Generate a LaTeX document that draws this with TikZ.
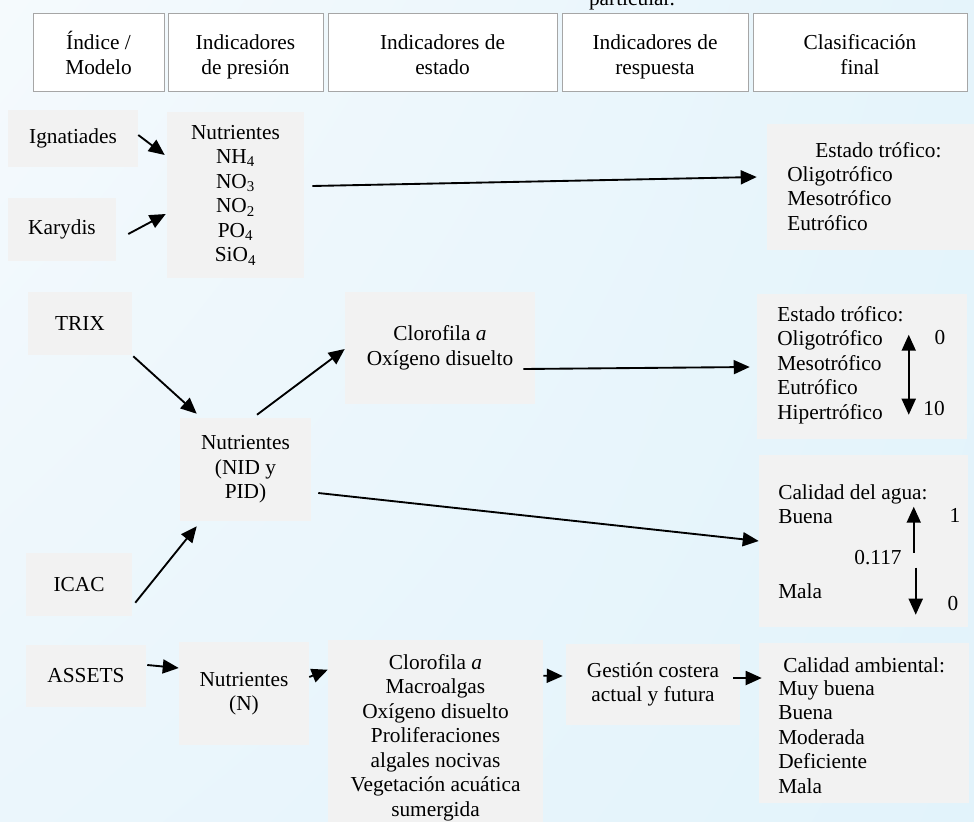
\documentclass[tikz,border=0pt]{standalone}
\usepackage{fontspec}
\setmainfont{Liberation Serif}
\usetikzlibrary{arrows.meta,calc,shadings}
\definecolor{boxgray}{HTML}{F2F2F2}
\definecolor{hdrline}{HTML}{A6A6A6}
\definecolor{bgA}{HTML}{F5FAFD}
\definecolor{bgB}{HTML}{E5F4FB}
\definecolor{bgC}{HTML}{EBF6FC}
\definecolor{bgD}{HTML}{E2F3FB}
\newcommand\firststrut{\rule{0pt}{13pt}}
\newcommand\hdrstrut{\rule{0pt}{15pt}}
\begin{document}
\begin{tikzpicture}[x=0.75pt,y=-0.75pt,
  every node/.style={font=\fontsize{16}{18.4}\selectfont},
  sz/.style 2 args={minimum width=#1*0.75pt, minimum height=#2*0.75pt},
  gbox/.style={fill=boxgray, inner sep=0pt, align=center},
  hdr/.style={fill=white, draw=hdrline, line width=0.75pt, inner sep=0pt},
  htxt/.style={anchor=north, inner sep=0pt, align=center},
  lst/.style={anchor=north west, inner sep=0pt, align=left},
  num/.style={anchor=base, inner sep=0pt},
  >={Triangle[length=12pt,width=10.5pt]},
  arr/.style={line width=1.4pt, ->},
  ]
\useasboundingbox (0,0) rectangle (974,821);
\shade[upper left=bgA, upper right=bgB, lower left=bgC, lower right=bgD] (0,0) rectangle (974,821);

% header
\node[num] (part) at (632,6) {particular.};
\node[hdr, sz={131}{78}] (h1) at (98.5,52) {};
\node[hdr, sz={155}{78}] (h2) at (245.5,52) {};
\node[hdr, sz={229}{78}] (h3) at (442.5,52) {};
\node[hdr, sz={186}{78}] (h4) at (655,52) {};
\node[hdr, sz={214}{78}] (h5) at (860,52) {};
\node[htxt] (h1t) at ($(h1.north)+(0,17)$) {\hdrstrut Índice /\\Modelo};
\node[htxt] (h2t) at ($(h2.north)+(0,17)$) {\hdrstrut Indicadores\\de presión};
\node[htxt] (h3t) at ($(h3.north)+(0,17)$) {\hdrstrut Indicadores de\\estado};
\node[htxt] (h4t) at ($(h4.north)+(0,17)$) {\hdrstrut Indicadores de\\respuesta};
\node[htxt] (h5t) at ($(h5.north)+(0,17)$) {\hdrstrut Clasificación\\final};

% boxes
\node[gbox, sz={130}{57}] (ign) at (73,138.5) {Ignatiades};
\node[gbox, sz={108}{63}] (kar) at (62,229.5) {Karydis};
\node[gbox, sz={137}{166}] (nut1) at (235.5,195) {Nutrientes\\NH\textsubscript{4}\\NO\textsubscript{3}\\NO\textsubscript{2}\\PO\textsubscript{4}\\SiO\textsubscript{4}};
\node[gbox, sz={207}{126}] (est1) at (870.5,187) {};
\node[gbox, sz={104}{63}] (trix) at (80,323.5) {TRIX};
\node[gbox, sz={190}{112}] (clo1) at (440,348) {Clorofila \textit{a}\\Oxígeno disuelto};
\node[gbox, sz={210}{145}] (est2) at (862,366.5) {};
\node[gbox, sz={131}{103}] (nut2) at (245.5,469.5) {Nutrientes\\(NID y\\PID)};
\node[gbox, sz={209}{172}] (cal1) at (863.5,541) {};
\node[gbox, sz={106}{63}] (icac) at (79,584.5) {ICAC};
\node[gbox, sz={120}{62}] (assets) at (86,676) {ASSETS};
\node[gbox, sz={130}{103}] (nut3) at (244,693.5) {Nutrientes\\(N)};
\node[gbox, sz={215}{195}] (clo2) at (435.5,737.5) {Clorofila \textit{a}\\Macroalgas\\Oxígeno disuelto\\Proliferaciones\\algales nocivas\\Vegetación acuática\\sumergida};
\node[gbox, sz={174}{81}] (ges) at (653,684.5) {Gestión costera\\actual y futura};
\node[gbox, sz={210}{160}] (cal2) at (864,723) {};

% texts in classification boxes
\node[lst] (e1t) at (815,139.7) {\firststrut Estado trófico:};
\node[lst] (e1l) at (787,163.7) {\firststrut Oligotrófico\\Mesotrófico\\Eutrófico};
\node[lst] (e2l) at (777,303.7) {\firststrut Estado trófico:\\Oligotrófico\\Mesotrófico\\Eutrófico\\Hipertrófico};
\node[num] (e2a) at (940,344) {0};
\node[num] (e2b) at (934,415) {10};
\node[lst] (c1t) at (778,481.7) {\firststrut Calidad del agua:\\Buena};
\node[lst] (c1m) at (778,580.7) {\firststrut Mala};
\node[num] (c1v) at (878,564) {0.117};
\node[num] (c1a) at (955,522) {1};
\node[num] (c1b) at (953,610) {0};
\node[lst] (c2t) at (783,654.7) {\firststrut Calidad ambiental:};
\node[lst] (c2l) at (778,677.7) {\firststrut Muy buena\\Buena\\Moderada\\Deficiente\\Mala};

% connectors
\draw[arr] ($(ign.east)+(0,-3.5)$) -- ($(nut1.west)+(-2,-40)$);
\draw[arr] ($(kar.east)+(12,4.5)$) -- ($(nut1.west)+(-1,19)$);
\draw[arr] ($(nut1.east)+(8,-9)$) -- ($(est1.west)+(-10,-10)$);
\draw[arr] ($(trix.south east)+(1,1)$) -- ($(nut2.north west)+(17,-4)$);
\draw[arr] ($(nut2.north)+(11.5,-3)$) -- ($(clo1.west)+(0,1)$);
\draw[arr] ($(icac.north east)+(3,50)$) -- ($(nut2.south west)+(17,5)$);
\draw[arr] ($(nut2.east)+(7,23.5)$) -- (cal1.west);
\draw[arr] ($(clo1.east)+(-12,21)$) -- ($(est2.west)+(-7,0.5)$);
\draw[arr] ($(assets.east)+(1,-11)$) -- ($(nut3.west)+(0,-25.5)$);
\draw[arr] ($(nut3.east)+(0,-16.5)$) -- ($(clo2.north west)+(0,30)$);
\draw[arr] ($(clo2.north east)+(0,36)$) -- ($(ges.west)+(-3,-8.5)$);
\draw[arr] ($(ges.east)+(-7,-6.5)$) -- ($(cal2.west)+(3,-45)$);

% scale arrows
\draw[arr, <->] ($(est2.north west)+(152,41)$) -- ($(est2.north west)+(152,121)$);
\draw[arr] ($(cal1.north west)+(155,98)$) -- ($(cal1.north west)+(155,52)$);
\draw[arr] ($(cal1.north west)+(157,113)$) -- ($(cal1.north west)+(157,160)$);
\end{tikzpicture}
\end{document}
